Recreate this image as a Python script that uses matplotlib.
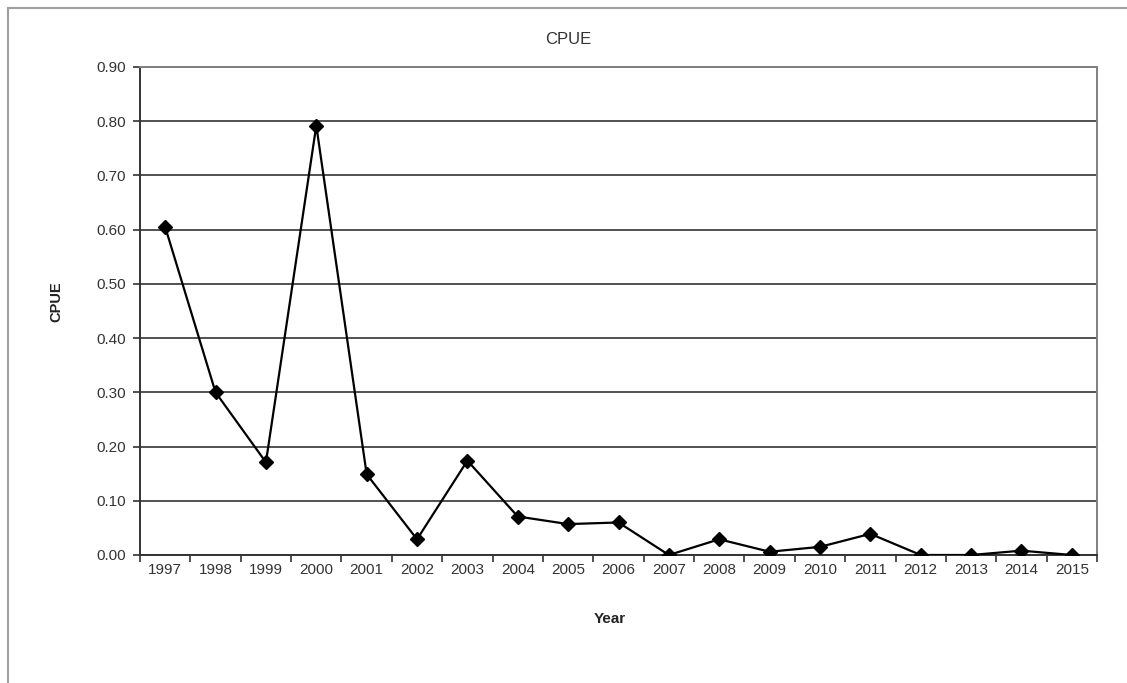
import matplotlib
matplotlib.use("Agg")
import matplotlib.pyplot as plt
from matplotlib.lines import Line2D

years = [str(y) for y in range(1997, 2016)]
cpue = [0.605, 0.30, 0.171, 0.792, 0.149, 0.029, 0.174, 0.071, 0.057, 0.060,
        0.0, 0.029, 0.006, 0.015, 0.039, 0.0, 0.0, 0.008, 0.0]
yticks = [0.0, 0.1, 0.2, 0.3, 0.4, 0.5, 0.6, 0.7, 0.8, 0.9]

plt.rcParams['font.family'] = ['Liberation Sans', 'DejaVu Sans']

W, H = 1127, 683
fig = plt.figure(figsize=(W / 100, H / 100), dpi=100)
ax = fig.add_axes([140 / W, 1 - 555 / H, (1097 - 140) / W, (555 - 67) / H])

x = list(range(len(years)))
ax.plot(x, cpue, color='black', lw=1.6, marker='D', markersize=7.5, zorder=3)

ax.set_xlim(-0.5, len(years) - 0.5)
ax.set_ylim(0, 0.9)
ax.set_yticks(yticks)
ax.set_yticklabels([f"{v:.2f}" for v in yticks])
ax.set_xticks(x)
ax.set_xticklabels(years)
ax.set_xticks([i - 0.5 for i in range(len(years) + 1)], minor=True)
ax.tick_params(axis='x', which='major', length=0, labelsize=11, colors='#333333', pad=6)
ax.tick_params(axis='x', which='minor', length=5, width=1.2, color='#333333', direction='out')
ax.tick_params(axis='y', length=5, width=1.2, labelsize=11, colors='#333333', pad=5)
ax.grid(axis='y', color='#333333', lw=1.2)
ax.set_axisbelow(True)

for s in ['left', 'bottom']:
    ax.spines[s].set_color('#333333')
    ax.spines[s].set_linewidth(1.4)
for s in ['top', 'right']:
    ax.spines[s].set_color('#808080')
    ax.spines[s].set_linewidth(1.4)

fig.text(568 / W, 1 - 39 / H, 'CPUE', ha='center', va='center', fontsize=12, color='#333333')
fig.text(56 / W, 1 - 302 / H, 'CPUE', ha='center', va='center', fontsize=10.5,
         fontweight='bold', rotation=90, color='#222222')
fig.text(610 / W, 1 - 619 / H, 'Year', ha='center', va='center', fontsize=11,
         fontweight='bold', color='#222222')

# outer frame
fig.add_artist(Line2D([8 / W, 1.0], [1 - 8 / H, 1 - 8 / H], transform=fig.transFigure,
                      color='#a0a0a0', lw=1.5))
fig.add_artist(Line2D([8 / W, 8 / W], [0, 1 - 8 / H], transform=fig.transFigure,
                      color='#a0a0a0', lw=1.5))

fig.savefig('out.png', dpi=100)
